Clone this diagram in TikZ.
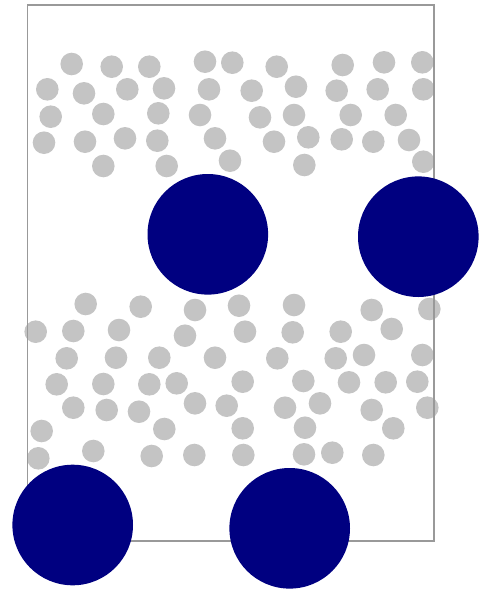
\documentclass[tikz,border=0pt]{standalone}
\definecolor{dotgray}{HTML}{C4C4C4}
\definecolor{bignavy}{HTML}{000080}
\definecolor{framegray}{HTML}{999999}
\tikzset{
  smalldot/.style={fill=dotgray, draw=none},
  bigdot/.style={fill=bignavy, draw=none},
  frame/.style={draw=framegray, line width=1.4pt}
}
\begin{document}
\begin{tikzpicture}[x=1pt,y=-1pt]
\useasboundingbox (0,0) rectangle (480,592);
% small grey particles, upper band
\foreach \px/\py in {71.7/64, 111.7/66.7, 149.3/66.7, 205/61.7, 232.3/62.7, 276.7/66.7, 342.7/65, 384/62.3, 422.3/62.3,
  47.3/89.3, 84/93.3, 127.3/89.3, 164/88.3, 209/89.3, 251.7/90.7, 296/86.7, 336.7/90.7, 377.7/89.3, 423.3/89.3,
  50.7/116.7, 103.3/114, 158.3/113.3, 200/115, 260/117.3, 294/115, 350.7/115, 395.7/115,
  44/142.7, 85/141.7, 125/138.3, 157.3/140.7, 215/138.3, 274/141.7, 308.3/137.3, 341.7/139.3, 373.3/141.7, 409/140,
  103.3/166, 166.7/166, 230/160.7, 304.3/165, 423.3/161.7}
  \fill[smalldot] (\px,\py) circle[radius=11.3];
% small grey particles, lower band
\foreach \px/\py in {85.7/304, 140.7/306.7, 195/310, 239/305.7, 294/305, 371.7/310, 429.3/309,
  35.7/331.7, 73.3/331, 119/330, 185/335.7, 245/331.7, 292.7/332.3, 340.7/331.7, 391.7/329,
  66.7/358.3, 116/357.7, 159.3/357.7, 215/357.7, 277.3/358.3, 335.7/358.3, 364/355, 422.3/355,
  56.7/384.3, 103.3/384, 149.3/384.3, 176.7/383.3, 242.7/381.7, 303.3/381, 349/382.3, 385.7/382.3, 417.3/381.7,
  73.3/407.7, 106.7/410, 139/411.7, 195/403.3, 226.7/405.7, 285/407.7, 320/403.3, 371.7/410, 427.3/407.7,
  41.7/431, 164.3/429, 242.7/428.3, 305/427.7, 393.3/428.3,
  93.3/451, 38.3/458.3, 151.7/456, 194.3/455, 243.3/455, 304/454.3, 332.3/452.7, 373.3/455}
  \fill[smalldot] (\px,\py) circle[radius=11.3];
% frame
\draw[frame] (27.7,5) rectangle (434,541);
% large navy particles
\fill[bigdot] (207.8,234.3) circle[radius=60.3];
\fill[bigdot] (418.3,236.7) circle[radius=60.3];
\fill[bigdot] (72.7,525) circle[radius=60.3];
\fill[bigdot] (289.7,528.3) circle[radius=60.3];
\end{tikzpicture}
\end{document}
